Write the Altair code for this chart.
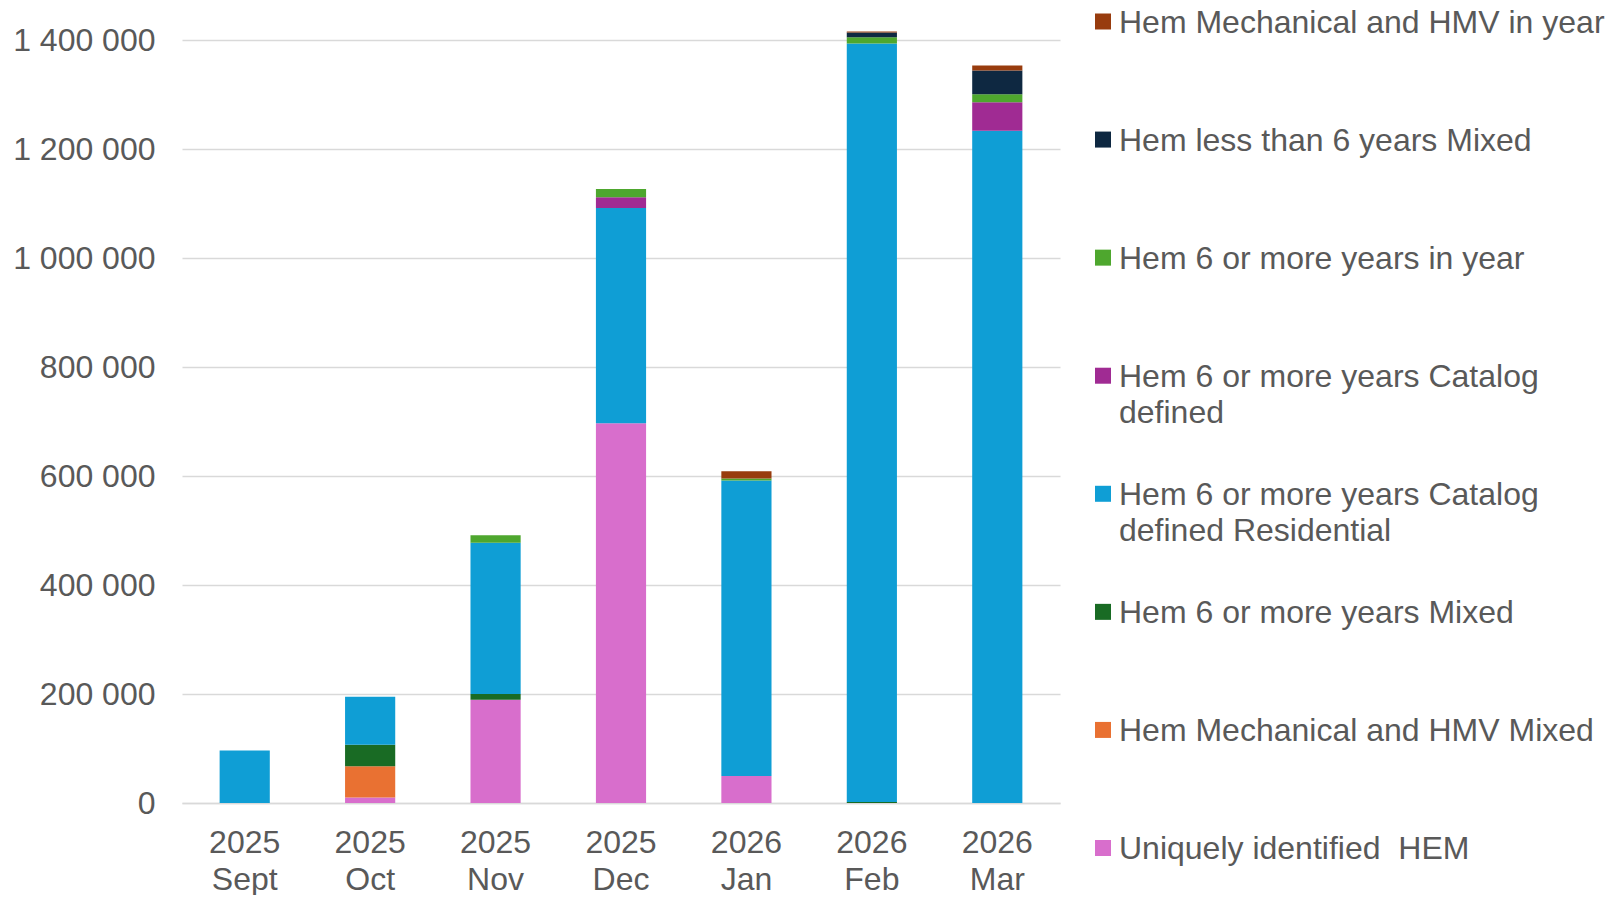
import altair as alt
import pandas as pd

months = ["2025 Sept", "2025 Oct", "2025 Nov", "2025 Dec", "2026 Jan", "2026 Feb", "2026 Mar"]

# stack order, bottom to top
series = [
    "Uniquely identified  HEM",
    "Hem Mechanical and HMV Mixed",
    "Hem 6 or more years Mixed",
    "Hem 6 or more years Catalog defined Residential",
    "Hem 6 or more years Catalog defined",
    "Hem 6 or more years in year",
    "Hem less than 6 years Mixed",
    "Hem Mechanical and HMV in year",
]
legend_text = [
    "Uniquely identified\u00a0 HEM",
    "Hem Mechanical and HMV Mixed",
    "Hem 6 or more years Mixed",
    "Hem 6 or more years Catalog\ndefined Residential",
    "Hem 6 or more years Catalog\ndefined",
    "Hem 6 or more years in year",
    "Hem less than 6 years Mixed",
    "Hem Mechanical and HMV in year",
]
colors = ["#D86ECC", "#E97132", "#196B24", "#0F9ED5", "#A02B93", "#4EA72E", "#0E2841", "#983C0E"]

uniquely = [0, 10000, 189500, 696800, 49700, 0, 0]
mech_mixed = [0, 57600, 0, 0, 0, 0, 0]
six_mixed = [0, 39200, 10500, 0, 0, 2000, 0]
residential = [96400, 88300, 277300, 395000, 542200, 1391600, 1233500]
catalog = [0, 0, 0, 19500, 0, 0, 52100]
in_year = [0, 0, 14000, 15500, 3700, 11600, 14700]
less_six = [0, 0, 0, 0, 0, 8600, 43600]
mech_in_year = [0, 0, 0, 0, 12900, 1800, 9200]

y_ticks = [0, 200000, 400000, 600000, 800000, 1000000, 1200000, 1400000]

all_values = [uniquely, mech_mixed, six_mixed, residential, catalog, in_year, less_six, mech_in_year]
rows = []
for i, (s, vals) in enumerate(zip(series, all_values)):
    for m, v in zip(months, vals):
        if v > 0:
            rows.append({"month": m, "series": s, "value": v, "stack": i})
bars_df = pd.DataFrame(rows)

legend_df = pd.DataFrame({"series": series[::-1], "label": legend_text[::-1]})

TEXT = "#595959"
FONT = "Liberation Sans"
color_scale = alt.Scale(domain=series, range=colors)

bars = alt.Chart(bars_df).mark_bar().encode(
    x=alt.X(
        "month:N",
        sort=months,
        scale=alt.Scale(paddingInner=0.6, paddingOuter=0.3),
        axis=alt.Axis(
            title=None, labelAngle=0, labelExpr="split(datum.label, ' ')",
            labelFontSize=32, labelColor=TEXT, labelLineHeight=37, labelBaseline="top",
            labelPadding=24, ticks=False, domainColor="#D9D9D9", domainWidth=1.5, grid=False,
        ),
    ),
    y=alt.Y(
        "value:Q",
        stack="zero",
        scale=alt.Scale(domain=[0, 1400000], nice=False),
        axis=alt.Axis(
            title=None, values=y_ticks,
            labelExpr="replace(format(datum.value, ','), regexp(',', 'g'), ' ')",
            labelFontSize=32, labelColor=TEXT, labelPadding=27, ticks=False, domain=False,
            gridColor="#D9D9D9", gridWidth=1.5,
        ),
    ),
    color=alt.Color("series:N", scale=color_scale, legend=None),
    order=alt.Order("stack:Q", sort="ascending"),
)

leg_y = alt.Y(
    "series:N", sort=series[::-1],
    scale=alt.Scale(type="point", range=[-18.5, 808], padding=0),
    axis=None,
)

squares = alt.Chart(legend_df).mark_square(size=256, opacity=1, strokeWidth=0).encode(
    x=alt.value(921),
    y=leg_y,
    color=alt.Color("series:N", scale=color_scale, legend=None),
)

texts = alt.Chart(legend_df).mark_text(
    align="left", baseline="top", dy=-14, fontSize=32, color=TEXT,
    lineBreak="\n", lineHeight=36, font=FONT,
).encode(
    x=alt.value(937),
    y=leg_y,
    text="label:N",
)

chart = (
    alt.layer(bars, squares, texts)
    .resolve_scale(y="independent")
    .resolve_axis(y="independent")
    .properties(
        width=878, height=763,
        padding={"left": 12, "top": 6, "right": 0, "bottom": 0},
        view=alt.ViewBackground(strokeWidth=0, strokeOpacity=0),
    )
    .configure_view(strokeWidth=0, strokeOpacity=0)
    .configure(font=FONT)
    .configure_axis(labelFont=FONT)
    .configure_axisY(domain=False)
)

chart.save("out.html", embed_options={"renderer": "svg", "actions": False})
